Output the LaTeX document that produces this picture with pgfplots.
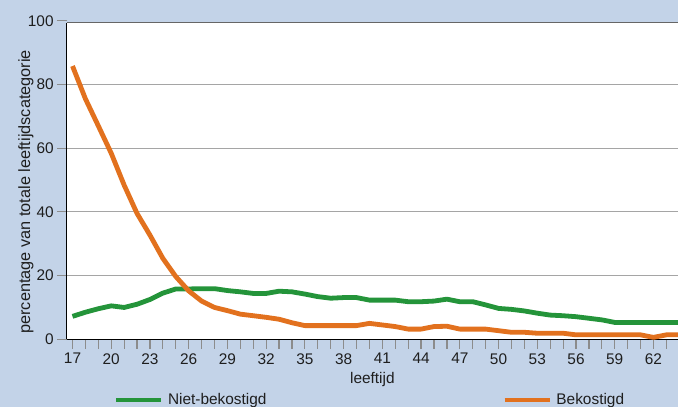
\documentclass[border=0pt]{standalone}
\usepackage{pgfplots}
\pgfplotsset{compat=1.18}
\usepackage{fontspec}
\setmainfont{Liberation Sans}
\definecolor{bg}{RGB}{195,211,232}
\definecolor{grn}{RGB}{36,148,58}
\definecolor{org}{RGB}{226,113,30}
\definecolor{gridc}{RGB}{165,165,165}
\definecolor{tickc}{RGB}{140,140,140}
\definecolor{txt}{RGB}{30,30,30}
\newcommand{\tf}{\fontsize{15.4}{18}\selectfont}
\begin{document}
\begin{tikzpicture}[x=1pt,y=1pt]
\fill[bg] (0,0) rectangle (678,407);
\begin{axis}[
  at={(66.7pt,67.7pt)}, anchor=south west,
  scale only axis, width=611.3pt, height=316.6pt,
  xmin=16.55, xmax=63.9, ymin=0, ymax=99.4,
  axis background/.style={fill=white},
  axis x line*=bottom, axis y line*=left,
  axis line style={black, line width=1.1pt},
  clip=false,
  xtick={17,20,...,62}, minor xtick={17,...,64},
  ytick={0,20,...,80},
  tick align=outside,
  major tick length=9.5pt, minor tick length=9.5pt,
  every tick/.style={tickc, line width=1.2pt},
  ymajorgrids, grid style={gridc, line width=1pt},
  /pgf/number format/assume math mode=true,
  tick label style={font=\tf, text=txt},
  xticklabel style={yshift=-1pt},
  xlabel={leeftijd}, ylabel={percentage van totale leeftijdscategorie},
  xlabel style={at={(axis description cs:0.5,-0.1286)}, anchor=center, font=\tf, text=txt},
  ylabel style={at={(axis description cs:-0.0666,0.466)}, anchor=center, font=\fontsize{16.3}{19}\selectfont, text=txt},
  legend columns=2,
  legend style={draw=none, fill=none, inner sep=0pt, font=\tf, text=txt,
    at={(axis description cs:0.0766,-0.1917)}, anchor=west,
    /tikz/every even column/.append style={column sep=233.7pt}},
  legend image code/.code={\draw[#1] (0pt,0pt) -- (45pt,0pt); \path (47.5pt,0pt);},
  every axis plot/.append style={line width=4.8pt, line join=round},
]
\addplot[grn] coordinates {
(17,7.2) (18,8.5) (19,9.6) (20,10.5) (21,10.0) (22,11.0) (23,12.5) (24,14.5)
(25,15.8) (26,15.8) (27,15.9) (28,15.9) (29,15.3) (30,14.9) (31,14.4) (32,14.4)
(33,15.1) (34,14.9) (35,14.2) (36,13.4) (37,12.9) (38,13.1) (39,13.1) (40,12.3)
(41,12.3) (42,12.3) (43,11.8) (44,11.8) (45,12.0) (46,12.6) (47,11.8) (48,11.8)
(49,10.8) (50,9.7) (51,9.4) (52,8.9) (53,8.2) (54,7.6) (55,7.4) (56,7.1)
(57,6.6) (58,6.1) (59,5.3) (60,5.3) (61,5.3) (62,5.3) (63,5.3) (63.9,5.3)
};
\addlegendentry{Niet-bekostigd}
\addplot[org] coordinates {
(17,85.8) (18,75.5) (19,67.0) (20,58.4) (21,48.4) (22,39.5) (23,32.7) (24,25.4)
(25,19.7) (26,15.2) (27,12.0) (28,10.0) (29,9.0) (30,7.9) (31,7.4) (32,6.9)
(33,6.3) (34,5.2) (35,4.3) (36,4.3) (37,4.3) (38,4.3) (39,4.3) (40,5.0)
(41,4.5) (42,4.0) (43,3.2) (44,3.2) (45,4.0) (46,4.1) (47,3.2) (48,3.2)
(49,3.2) (50,2.7) (51,2.2) (52,2.2) (53,1.9) (54,1.9) (55,1.9) (56,1.4)
(57,1.4) (58,1.4) (59,1.4) (60,1.4) (61,1.4) (62,0.6) (63,1.4) (63.9,1.4)
};
\addlegendentry{Bekostigd}
\draw[black!60, line width=1.2pt] (rel axis cs:0,1) -- (rel axis cs:1,1);
\draw[tickc, line width=1.2pt] (axis cs:16.55,100) -- ++(-9.5pt,0pt) node[anchor=east, font=\tf, text=txt, inner sep=3pt] {100};
\end{axis}
\pgfresetboundingbox
\useasboundingbox (0,0) rectangle (678,407);
\end{tikzpicture}
\end{document}
